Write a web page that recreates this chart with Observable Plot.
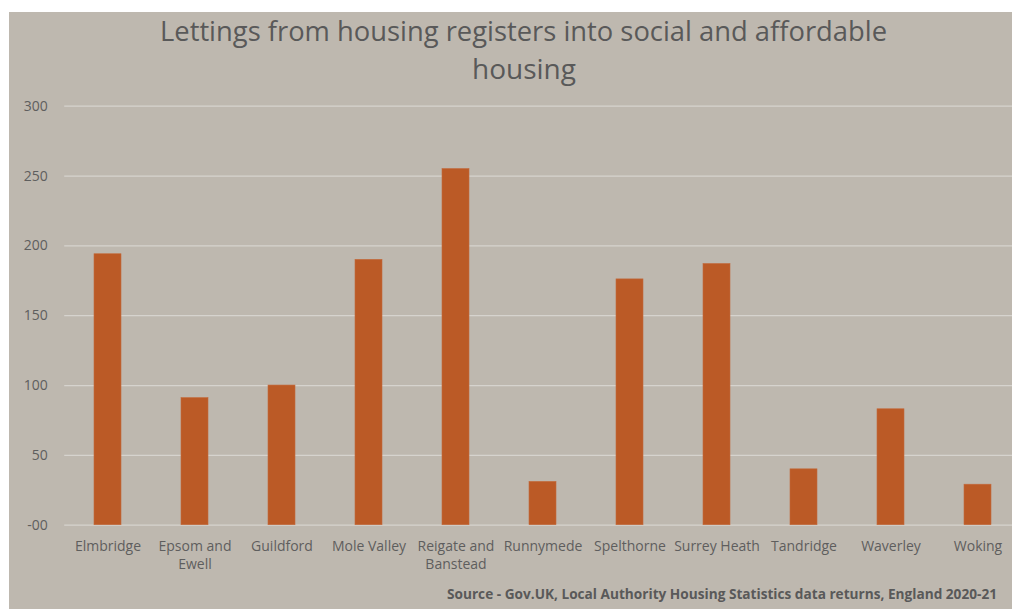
<!DOCTYPE html>
<html>
<head>
<meta charset="utf-8">
<script src="https://cdn.jsdelivr.net/npm/d3@7"></script>
<script src="https://cdn.jsdelivr.net/npm/@observablehq/plot@0.6"></script>
<style>
  html, body { margin: 0; padding: 0; background: #ffffff; }
  #card {
    position: absolute; left: 9px; top: 12px; width: 1003px; height: 597px;
    background: #BEB8AF; overflow: hidden;
    font-family: "Open Sans", sans-serif;
  }
  .title {
    position: absolute; left: 514.5px; white-space: nowrap;
    font-size: 28px; line-height: 38px; font-weight: 400; color: #595959;
    transform-origin: 0 0;
  }
  #caption {
    position: absolute; white-space: nowrap;
    font-size: 14px; line-height: 20px; font-weight: 700; color: #595959;
    transform-origin: 0 0;
  }
  #chart { position: absolute; left: 0; top: 78px; }
</style>
</head>
<body>
<div id="card">
  <div class="title" id="t1">Lettings from housing registers into social and affordable</div>
  <div class="title" id="t2">housing</div>
  <div id="chart"></div>
  <div id="caption">Source - Gov.UK, Local Authority Housing Statistics data returns, England 2020-21</div>
</div>
<script>
const categories = ["Elmbridge", "Epsom and Ewell", "Guildford", "Mole Valley", "Reigate and Banstead", "Runnymede", "Spelthorne", "Surrey Heath", "Tandridge", "Waverley", "Woking"];
const categoryLabels = ["Elmbridge", "Epsom and\nEwell", "Guildford", "Mole Valley", "Reigate and\nBanstead", "Runnymede", "Spelthorne", "Surrey Heath", "Tandridge", "Waverley", "Woking"];
const lettings = [194, 91, 100, 190, 255, 31, 176, 187, 40, 83, 29];
const yTicks = [0, 50, 100, 150, 200, 250, 300];
const yTickLabels = ["-00", "50", "100", "150", "200", "250", "300"];

const data = categories.map((c, i) => ({category: c, value: lettings[i]}));
const labelOf = new Map(categories.map((c, i) => [c, categoryLabels[i]]));
const yLabelOf = new Map(yTicks.map((t, i) => [t, yTickLabels[i]]));

const chart = Plot.plot({
  width: 1003,
  height: 510,
  marginTop: 15.7,
  marginBottom: 75.3,
  marginLeft: 55.2,
  marginRight: 0,
  style: {background: "transparent", fontFamily: "Open Sans, sans-serif", color: "#595959"},
  x: {domain: categories, range: [55.2, 1012.5], paddingInner: 0.685, paddingOuter: 0.3425},
  y: {domain: [0, 300]},
  marks: [
    Plot.ruleY(yTicks, {stroke: "#D6D3CE", strokeWidth: 1.3}),
    Plot.barY(data, {x: "category", y: "value", fill: "#BB5A26", stroke: "#C46A3C", strokeWidth: 0.6}),
    Plot.axisY(yTicks, {label: null, tickSize: 0, tickPadding: 8, fontSize: 14, fill: "#5E5E5E", tickFormat: d => yLabelOf.get(d), dx: -9}),
    Plot.axisX({label: null, tickSize: 0, tickPadding: 13, fontSize: 14, fill: "#5E5E5E", lineHeight: 1.3, tickFormat: d => labelOf.get(d)})
  ]
});
document.getElementById("chart").appendChild(chart);

// Fit title and caption text to their measured widths in the reference.
function fit(el, targetWidth, centerX, top, alignRight) {
  const w = el.getBoundingClientRect().width;
  const s = targetWidth / w;
  const left = alignRight ? centerX - targetWidth : centerX - targetWidth / 2;
  el.style.left = left + "px";
  el.style.top = top + "px";
  el.style.transform = `scaleX(${s})`;
}
fit(document.getElementById("t1"), 727, 514.5, -1, false);
fit(document.getElementById("t2"), 104, 515, 37, false);
fit(document.getElementById("caption"), 550, 988, 572, true);
</script>
</body>
</html>
